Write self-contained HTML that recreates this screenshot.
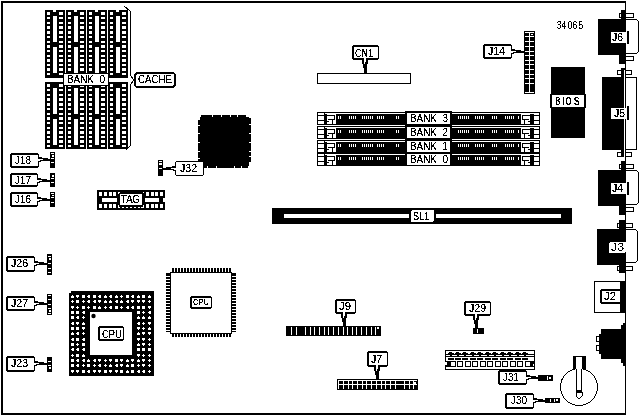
<!DOCTYPE html>
<html><head><meta charset="utf-8"><style>
html,body{margin:0;padding:0;background:#fff;width:639px;height:416px;overflow:hidden}
svg{display:block;filter:grayscale(100%)}
text{font-family:"Liberation Sans",sans-serif}
</style></head><body>
<svg width="639" height="416" viewBox="0 0 639 416" shape-rendering="crispEdges">
<defs><filter id="th" x="-10%" y="-10%" width="120%" height="120%"><feComponentTransfer><feFuncA type="discrete" tableValues="0 0 1 1 1"/></feComponentTransfer></filter><filter id="th2" x="-10%" y="-10%" width="120%" height="120%"><feComponentTransfer><feFuncA type="discrete" tableValues="0 0 1 1 1 1 1 1"/></feComponentTransfer></filter></defs>
<rect width="639" height="416" fill="#fff"/>
<rect x="1" y="1" width="625" height="2" fill="#000"/>
<rect x="1" y="1" width="2" height="414" fill="#000"/>
<rect x="1" y="413" width="625" height="2" fill="#000"/>
<rect x="625" y="1" width="1" height="414" fill="#000"/>
<rect x="45" y="10" width="20" height="68" fill="#000"/>
<rect x="47" y="12" width="3" height="3" fill="#fff"/>
<rect x="59" y="12" width="4" height="3" fill="#fff"/>
<rect x="47" y="17" width="3" height="2" fill="#fff"/>
<rect x="59" y="17" width="4" height="2" fill="#fff"/>
<rect x="47" y="22" width="3" height="2" fill="#fff"/>
<rect x="59" y="22" width="4" height="2" fill="#fff"/>
<rect x="47" y="26" width="3" height="3" fill="#fff"/>
<rect x="59" y="26" width="4" height="3" fill="#fff"/>
<rect x="47" y="31" width="3" height="3" fill="#fff"/>
<rect x="59" y="31" width="4" height="3" fill="#fff"/>
<rect x="47" y="36" width="3" height="2" fill="#fff"/>
<rect x="59" y="36" width="4" height="2" fill="#fff"/>
<rect x="47" y="41" width="3" height="2" fill="#fff"/>
<rect x="59" y="41" width="4" height="2" fill="#fff"/>
<rect x="47" y="45" width="3" height="3" fill="#fff"/>
<rect x="59" y="45" width="4" height="3" fill="#fff"/>
<rect x="47" y="50" width="3" height="2" fill="#fff"/>
<rect x="59" y="50" width="4" height="2" fill="#fff"/>
<rect x="47" y="55" width="3" height="2" fill="#fff"/>
<rect x="59" y="55" width="4" height="2" fill="#fff"/>
<rect x="47" y="59" width="3" height="3" fill="#fff"/>
<rect x="59" y="59" width="4" height="3" fill="#fff"/>
<rect x="47" y="64" width="3" height="2" fill="#fff"/>
<rect x="59" y="64" width="4" height="2" fill="#fff"/>
<rect x="47" y="68" width="3" height="3" fill="#fff"/>
<rect x="59" y="68" width="4" height="3" fill="#fff"/>
<rect x="47" y="73" width="3" height="2" fill="#fff"/>
<rect x="59" y="73" width="4" height="2" fill="#fff"/>
<rect x="53" y="16" width="4" height="26" fill="#fff"/>
<rect x="53" y="47" width="4" height="26" fill="#fff"/>
<rect x="66" y="10" width="20" height="68" fill="#000"/>
<rect x="68" y="12" width="3" height="3" fill="#fff"/>
<rect x="80" y="12" width="4" height="3" fill="#fff"/>
<rect x="68" y="17" width="3" height="2" fill="#fff"/>
<rect x="80" y="17" width="4" height="2" fill="#fff"/>
<rect x="68" y="22" width="3" height="2" fill="#fff"/>
<rect x="80" y="22" width="4" height="2" fill="#fff"/>
<rect x="68" y="26" width="3" height="3" fill="#fff"/>
<rect x="80" y="26" width="4" height="3" fill="#fff"/>
<rect x="68" y="31" width="3" height="3" fill="#fff"/>
<rect x="80" y="31" width="4" height="3" fill="#fff"/>
<rect x="68" y="36" width="3" height="2" fill="#fff"/>
<rect x="80" y="36" width="4" height="2" fill="#fff"/>
<rect x="68" y="41" width="3" height="2" fill="#fff"/>
<rect x="80" y="41" width="4" height="2" fill="#fff"/>
<rect x="68" y="45" width="3" height="3" fill="#fff"/>
<rect x="80" y="45" width="4" height="3" fill="#fff"/>
<rect x="68" y="50" width="3" height="2" fill="#fff"/>
<rect x="80" y="50" width="4" height="2" fill="#fff"/>
<rect x="68" y="55" width="3" height="2" fill="#fff"/>
<rect x="80" y="55" width="4" height="2" fill="#fff"/>
<rect x="68" y="59" width="3" height="3" fill="#fff"/>
<rect x="80" y="59" width="4" height="3" fill="#fff"/>
<rect x="68" y="64" width="3" height="2" fill="#fff"/>
<rect x="80" y="64" width="4" height="2" fill="#fff"/>
<rect x="68" y="68" width="3" height="3" fill="#fff"/>
<rect x="80" y="68" width="4" height="3" fill="#fff"/>
<rect x="68" y="73" width="3" height="2" fill="#fff"/>
<rect x="80" y="73" width="4" height="2" fill="#fff"/>
<rect x="74" y="16" width="4" height="26" fill="#fff"/>
<rect x="74" y="47" width="4" height="26" fill="#fff"/>
<rect x="87" y="10" width="20" height="68" fill="#000"/>
<rect x="89" y="12" width="3" height="3" fill="#fff"/>
<rect x="101" y="12" width="4" height="3" fill="#fff"/>
<rect x="89" y="17" width="3" height="2" fill="#fff"/>
<rect x="101" y="17" width="4" height="2" fill="#fff"/>
<rect x="89" y="22" width="3" height="2" fill="#fff"/>
<rect x="101" y="22" width="4" height="2" fill="#fff"/>
<rect x="89" y="26" width="3" height="3" fill="#fff"/>
<rect x="101" y="26" width="4" height="3" fill="#fff"/>
<rect x="89" y="31" width="3" height="3" fill="#fff"/>
<rect x="101" y="31" width="4" height="3" fill="#fff"/>
<rect x="89" y="36" width="3" height="2" fill="#fff"/>
<rect x="101" y="36" width="4" height="2" fill="#fff"/>
<rect x="89" y="41" width="3" height="2" fill="#fff"/>
<rect x="101" y="41" width="4" height="2" fill="#fff"/>
<rect x="89" y="45" width="3" height="3" fill="#fff"/>
<rect x="101" y="45" width="4" height="3" fill="#fff"/>
<rect x="89" y="50" width="3" height="2" fill="#fff"/>
<rect x="101" y="50" width="4" height="2" fill="#fff"/>
<rect x="89" y="55" width="3" height="2" fill="#fff"/>
<rect x="101" y="55" width="4" height="2" fill="#fff"/>
<rect x="89" y="59" width="3" height="3" fill="#fff"/>
<rect x="101" y="59" width="4" height="3" fill="#fff"/>
<rect x="89" y="64" width="3" height="2" fill="#fff"/>
<rect x="101" y="64" width="4" height="2" fill="#fff"/>
<rect x="89" y="68" width="3" height="3" fill="#fff"/>
<rect x="101" y="68" width="4" height="3" fill="#fff"/>
<rect x="89" y="73" width="3" height="2" fill="#fff"/>
<rect x="101" y="73" width="4" height="2" fill="#fff"/>
<rect x="95" y="16" width="4" height="26" fill="#fff"/>
<rect x="95" y="47" width="4" height="26" fill="#fff"/>
<rect x="108" y="10" width="20" height="68" fill="#000"/>
<rect x="110" y="12" width="3" height="3" fill="#fff"/>
<rect x="122" y="12" width="4" height="3" fill="#fff"/>
<rect x="110" y="17" width="3" height="2" fill="#fff"/>
<rect x="122" y="17" width="4" height="2" fill="#fff"/>
<rect x="110" y="22" width="3" height="2" fill="#fff"/>
<rect x="122" y="22" width="4" height="2" fill="#fff"/>
<rect x="110" y="26" width="3" height="3" fill="#fff"/>
<rect x="122" y="26" width="4" height="3" fill="#fff"/>
<rect x="110" y="31" width="3" height="3" fill="#fff"/>
<rect x="122" y="31" width="4" height="3" fill="#fff"/>
<rect x="110" y="36" width="3" height="2" fill="#fff"/>
<rect x="122" y="36" width="4" height="2" fill="#fff"/>
<rect x="110" y="41" width="3" height="2" fill="#fff"/>
<rect x="122" y="41" width="4" height="2" fill="#fff"/>
<rect x="110" y="45" width="3" height="3" fill="#fff"/>
<rect x="122" y="45" width="4" height="3" fill="#fff"/>
<rect x="110" y="50" width="3" height="2" fill="#fff"/>
<rect x="122" y="50" width="4" height="2" fill="#fff"/>
<rect x="110" y="55" width="3" height="2" fill="#fff"/>
<rect x="122" y="55" width="4" height="2" fill="#fff"/>
<rect x="110" y="59" width="3" height="3" fill="#fff"/>
<rect x="122" y="59" width="4" height="3" fill="#fff"/>
<rect x="110" y="64" width="3" height="2" fill="#fff"/>
<rect x="122" y="64" width="4" height="2" fill="#fff"/>
<rect x="110" y="68" width="3" height="3" fill="#fff"/>
<rect x="122" y="68" width="4" height="3" fill="#fff"/>
<rect x="110" y="73" width="3" height="2" fill="#fff"/>
<rect x="122" y="73" width="4" height="2" fill="#fff"/>
<rect x="116" y="16" width="4" height="26" fill="#fff"/>
<rect x="116" y="47" width="4" height="26" fill="#fff"/>
<rect x="45" y="82" width="20" height="67" fill="#000"/>
<rect x="47" y="84" width="3" height="3" fill="#fff"/>
<rect x="59" y="84" width="4" height="3" fill="#fff"/>
<rect x="47" y="89" width="3" height="2" fill="#fff"/>
<rect x="59" y="89" width="4" height="2" fill="#fff"/>
<rect x="47" y="94" width="3" height="2" fill="#fff"/>
<rect x="59" y="94" width="4" height="2" fill="#fff"/>
<rect x="47" y="98" width="3" height="3" fill="#fff"/>
<rect x="59" y="98" width="4" height="3" fill="#fff"/>
<rect x="47" y="103" width="3" height="3" fill="#fff"/>
<rect x="59" y="103" width="4" height="3" fill="#fff"/>
<rect x="47" y="108" width="3" height="2" fill="#fff"/>
<rect x="59" y="108" width="4" height="2" fill="#fff"/>
<rect x="47" y="113" width="3" height="2" fill="#fff"/>
<rect x="59" y="113" width="4" height="2" fill="#fff"/>
<rect x="47" y="117" width="3" height="3" fill="#fff"/>
<rect x="59" y="117" width="4" height="3" fill="#fff"/>
<rect x="47" y="122" width="3" height="2" fill="#fff"/>
<rect x="59" y="122" width="4" height="2" fill="#fff"/>
<rect x="47" y="127" width="3" height="2" fill="#fff"/>
<rect x="59" y="127" width="4" height="2" fill="#fff"/>
<rect x="47" y="131" width="3" height="3" fill="#fff"/>
<rect x="59" y="131" width="4" height="3" fill="#fff"/>
<rect x="47" y="136" width="3" height="2" fill="#fff"/>
<rect x="59" y="136" width="4" height="2" fill="#fff"/>
<rect x="47" y="140" width="3" height="3" fill="#fff"/>
<rect x="59" y="140" width="4" height="3" fill="#fff"/>
<rect x="47" y="145" width="3" height="2" fill="#fff"/>
<rect x="59" y="145" width="4" height="2" fill="#fff"/>
<rect x="53" y="88" width="4" height="26" fill="#fff"/>
<rect x="53" y="119" width="4" height="26" fill="#fff"/>
<rect x="66" y="82" width="20" height="67" fill="#000"/>
<rect x="68" y="84" width="3" height="3" fill="#fff"/>
<rect x="80" y="84" width="4" height="3" fill="#fff"/>
<rect x="68" y="89" width="3" height="2" fill="#fff"/>
<rect x="80" y="89" width="4" height="2" fill="#fff"/>
<rect x="68" y="94" width="3" height="2" fill="#fff"/>
<rect x="80" y="94" width="4" height="2" fill="#fff"/>
<rect x="68" y="98" width="3" height="3" fill="#fff"/>
<rect x="80" y="98" width="4" height="3" fill="#fff"/>
<rect x="68" y="103" width="3" height="3" fill="#fff"/>
<rect x="80" y="103" width="4" height="3" fill="#fff"/>
<rect x="68" y="108" width="3" height="2" fill="#fff"/>
<rect x="80" y="108" width="4" height="2" fill="#fff"/>
<rect x="68" y="113" width="3" height="2" fill="#fff"/>
<rect x="80" y="113" width="4" height="2" fill="#fff"/>
<rect x="68" y="117" width="3" height="3" fill="#fff"/>
<rect x="80" y="117" width="4" height="3" fill="#fff"/>
<rect x="68" y="122" width="3" height="2" fill="#fff"/>
<rect x="80" y="122" width="4" height="2" fill="#fff"/>
<rect x="68" y="127" width="3" height="2" fill="#fff"/>
<rect x="80" y="127" width="4" height="2" fill="#fff"/>
<rect x="68" y="131" width="3" height="3" fill="#fff"/>
<rect x="80" y="131" width="4" height="3" fill="#fff"/>
<rect x="68" y="136" width="3" height="2" fill="#fff"/>
<rect x="80" y="136" width="4" height="2" fill="#fff"/>
<rect x="68" y="140" width="3" height="3" fill="#fff"/>
<rect x="80" y="140" width="4" height="3" fill="#fff"/>
<rect x="68" y="145" width="3" height="2" fill="#fff"/>
<rect x="80" y="145" width="4" height="2" fill="#fff"/>
<rect x="74" y="88" width="4" height="26" fill="#fff"/>
<rect x="74" y="119" width="4" height="26" fill="#fff"/>
<rect x="87" y="82" width="20" height="67" fill="#000"/>
<rect x="89" y="84" width="3" height="3" fill="#fff"/>
<rect x="101" y="84" width="4" height="3" fill="#fff"/>
<rect x="89" y="89" width="3" height="2" fill="#fff"/>
<rect x="101" y="89" width="4" height="2" fill="#fff"/>
<rect x="89" y="94" width="3" height="2" fill="#fff"/>
<rect x="101" y="94" width="4" height="2" fill="#fff"/>
<rect x="89" y="98" width="3" height="3" fill="#fff"/>
<rect x="101" y="98" width="4" height="3" fill="#fff"/>
<rect x="89" y="103" width="3" height="3" fill="#fff"/>
<rect x="101" y="103" width="4" height="3" fill="#fff"/>
<rect x="89" y="108" width="3" height="2" fill="#fff"/>
<rect x="101" y="108" width="4" height="2" fill="#fff"/>
<rect x="89" y="113" width="3" height="2" fill="#fff"/>
<rect x="101" y="113" width="4" height="2" fill="#fff"/>
<rect x="89" y="117" width="3" height="3" fill="#fff"/>
<rect x="101" y="117" width="4" height="3" fill="#fff"/>
<rect x="89" y="122" width="3" height="2" fill="#fff"/>
<rect x="101" y="122" width="4" height="2" fill="#fff"/>
<rect x="89" y="127" width="3" height="2" fill="#fff"/>
<rect x="101" y="127" width="4" height="2" fill="#fff"/>
<rect x="89" y="131" width="3" height="3" fill="#fff"/>
<rect x="101" y="131" width="4" height="3" fill="#fff"/>
<rect x="89" y="136" width="3" height="2" fill="#fff"/>
<rect x="101" y="136" width="4" height="2" fill="#fff"/>
<rect x="89" y="140" width="3" height="3" fill="#fff"/>
<rect x="101" y="140" width="4" height="3" fill="#fff"/>
<rect x="89" y="145" width="3" height="2" fill="#fff"/>
<rect x="101" y="145" width="4" height="2" fill="#fff"/>
<rect x="95" y="88" width="4" height="26" fill="#fff"/>
<rect x="95" y="119" width="4" height="26" fill="#fff"/>
<rect x="108" y="82" width="20" height="67" fill="#000"/>
<rect x="110" y="84" width="3" height="3" fill="#fff"/>
<rect x="122" y="84" width="4" height="3" fill="#fff"/>
<rect x="110" y="89" width="3" height="2" fill="#fff"/>
<rect x="122" y="89" width="4" height="2" fill="#fff"/>
<rect x="110" y="94" width="3" height="2" fill="#fff"/>
<rect x="122" y="94" width="4" height="2" fill="#fff"/>
<rect x="110" y="98" width="3" height="3" fill="#fff"/>
<rect x="122" y="98" width="4" height="3" fill="#fff"/>
<rect x="110" y="103" width="3" height="3" fill="#fff"/>
<rect x="122" y="103" width="4" height="3" fill="#fff"/>
<rect x="110" y="108" width="3" height="2" fill="#fff"/>
<rect x="122" y="108" width="4" height="2" fill="#fff"/>
<rect x="110" y="113" width="3" height="2" fill="#fff"/>
<rect x="122" y="113" width="4" height="2" fill="#fff"/>
<rect x="110" y="117" width="3" height="3" fill="#fff"/>
<rect x="122" y="117" width="4" height="3" fill="#fff"/>
<rect x="110" y="122" width="3" height="2" fill="#fff"/>
<rect x="122" y="122" width="4" height="2" fill="#fff"/>
<rect x="110" y="127" width="3" height="2" fill="#fff"/>
<rect x="122" y="127" width="4" height="2" fill="#fff"/>
<rect x="110" y="131" width="3" height="3" fill="#fff"/>
<rect x="122" y="131" width="4" height="3" fill="#fff"/>
<rect x="110" y="136" width="3" height="2" fill="#fff"/>
<rect x="122" y="136" width="4" height="2" fill="#fff"/>
<rect x="110" y="140" width="3" height="3" fill="#fff"/>
<rect x="122" y="140" width="4" height="3" fill="#fff"/>
<rect x="110" y="145" width="3" height="2" fill="#fff"/>
<rect x="122" y="145" width="4" height="2" fill="#fff"/>
<rect x="116" y="88" width="4" height="26" fill="#fff"/>
<rect x="116" y="119" width="4" height="26" fill="#fff"/>
<rect x="53" y="10" width="3" height="2" fill="#fff"/>
<rect x="74" y="10" width="3" height="2" fill="#fff"/>
<rect x="95" y="10" width="3" height="2" fill="#fff"/>
<rect x="116" y="10" width="3" height="2" fill="#fff"/>
<rect x="63" y="73" width="46" height="13" fill="#000"/>
<rect x="64" y="74" width="44" height="11" fill="#fff"/>
<text x="67" y="83" font-size="11" fill="#000" font-weight="normal" filter="url(#th)" textLength="38" lengthAdjust="spacingAndGlyphs">BANK&#160;&#160;0</text>
<path d="M124,6 L130,11 L130,75 L134,80 L130,85 L130,146 L126,150" fill="none" stroke="#000" stroke-width="1"/>
<rect x="109" y="79" width="21" height="2" fill="#fff"/>
<rect x="135" y="73" width="40" height="14" rx="3" fill="#fff" stroke="#000" stroke-width="2"/>
<text x="138" y="83" font-size="11" fill="#000" font-weight="normal" filter="url(#th)" textLength="34" lengthAdjust="spacingAndGlyphs">CACHE</text>
<rect x="11" y="153" width="27" height="15" fill="#000"/>
<rect x="10" y="154" width="29" height="13" fill="#000"/>
<rect x="12" y="155" width="26" height="11" fill="#fff"/>
<text x="15" y="164" font-size="11" fill="#000" font-weight="normal" filter="url(#th)" textLength="16" lengthAdjust="spacingAndGlyphs">J18</text>
<rect x="38" y="157" width="4" height="1" fill="#000"/>
<rect x="38" y="158" width="10" height="1" fill="#000"/>
<rect x="43" y="159" width="7" height="1" fill="#000"/>
<rect x="37" y="159" width="6" height="1" fill="#fff"/>
<rect x="40" y="160" width="7" height="1" fill="#000"/>
<rect x="37" y="160" width="3" height="1" fill="#fff"/>
<rect x="47" y="160" width="3" height="1" fill="#000"/>
<rect x="38" y="161" width="3" height="1" fill="#000"/>
<rect x="50" y="152" width="5" height="16" fill="#000"/>
<rect x="51" y="153" width="3" height="1" fill="#fff"/>
<rect x="52" y="155" width="2" height="2" fill="#fff"/>
<rect x="51" y="158" width="3" height="1" fill="#fff"/>
<rect x="51" y="162" width="3" height="1" fill="#fff"/>
<rect x="11" y="173" width="26" height="14" fill="#000"/>
<rect x="10" y="174" width="28" height="12" fill="#000"/>
<rect x="12" y="175" width="25" height="10" fill="#fff"/>
<text x="15" y="184" font-size="11" fill="#000" font-weight="normal" filter="url(#th)" textLength="16" lengthAdjust="spacingAndGlyphs">J17</text>
<rect x="37" y="178" width="4" height="1" fill="#000"/>
<rect x="37" y="179" width="10" height="1" fill="#000"/>
<rect x="42" y="180" width="8" height="1" fill="#000"/>
<rect x="36" y="180" width="6" height="1" fill="#fff"/>
<rect x="39" y="181" width="7" height="1" fill="#000"/>
<rect x="36" y="181" width="3" height="1" fill="#fff"/>
<rect x="46" y="181" width="4" height="1" fill="#000"/>
<rect x="37" y="182" width="3" height="1" fill="#000"/>
<rect x="50" y="173" width="5" height="14" fill="#000"/>
<rect x="52" y="175" width="2" height="2" fill="#fff"/>
<rect x="51" y="178" width="3" height="1" fill="#fff"/>
<rect x="51" y="182" width="3" height="1" fill="#fff"/>
<rect x="11" y="192" width="26" height="15" fill="#000"/>
<rect x="10" y="193" width="28" height="13" fill="#000"/>
<rect x="12" y="194" width="25" height="11" fill="#fff"/>
<text x="15" y="203" font-size="11" fill="#000" font-weight="normal" filter="url(#th)" textLength="16" lengthAdjust="spacingAndGlyphs">J16</text>
<rect x="37" y="197" width="4" height="1" fill="#000"/>
<rect x="37" y="198" width="10" height="1" fill="#000"/>
<rect x="42" y="199" width="8" height="1" fill="#000"/>
<rect x="36" y="199" width="6" height="1" fill="#fff"/>
<rect x="39" y="200" width="7" height="1" fill="#000"/>
<rect x="36" y="200" width="3" height="1" fill="#fff"/>
<rect x="46" y="200" width="4" height="1" fill="#000"/>
<rect x="37" y="201" width="3" height="1" fill="#000"/>
<rect x="50" y="192" width="5" height="15" fill="#000"/>
<rect x="51" y="193" width="3" height="1" fill="#fff"/>
<rect x="52" y="195" width="2" height="1" fill="#fff"/>
<rect x="51" y="197" width="3" height="1" fill="#fff"/>
<rect x="51" y="202" width="3" height="1" fill="#fff"/>
<rect x="7" y="256" width="27" height="16" fill="#000"/>
<rect x="6" y="257" width="29" height="14" fill="#000"/>
<rect x="8" y="258" width="26" height="12" fill="#fff"/>
<text x="11" y="267" font-size="11" fill="#000" font-weight="normal" filter="url(#th)" textLength="17" lengthAdjust="spacingAndGlyphs">J26</text>
<rect x="34" y="261" width="4" height="1" fill="#000"/>
<rect x="34" y="262" width="10" height="1" fill="#000"/>
<rect x="39" y="263" width="8" height="1" fill="#000"/>
<rect x="33" y="263" width="6" height="1" fill="#fff"/>
<rect x="36" y="264" width="7" height="1" fill="#000"/>
<rect x="33" y="264" width="3" height="1" fill="#fff"/>
<rect x="43" y="264" width="4" height="1" fill="#000"/>
<rect x="34" y="265" width="3" height="1" fill="#000"/>
<rect x="47" y="254" width="5" height="21" fill="#000"/>
<rect x="48" y="256" width="3" height="1" fill="#fff"/>
<rect x="49" y="258" width="2" height="2" fill="#fff"/>
<rect x="48" y="263" width="3" height="1" fill="#fff"/>
<rect x="48" y="268" width="3" height="1" fill="#fff"/>
<rect x="48" y="272" width="3" height="1" fill="#fff"/>
<rect x="7" y="296" width="27" height="15" fill="#000"/>
<rect x="6" y="297" width="29" height="13" fill="#000"/>
<rect x="8" y="298" width="26" height="11" fill="#fff"/>
<text x="11" y="307" font-size="11" fill="#000" font-weight="normal" filter="url(#th)" textLength="17" lengthAdjust="spacingAndGlyphs">J27</text>
<rect x="34" y="301" width="4" height="1" fill="#000"/>
<rect x="34" y="302" width="10" height="1" fill="#000"/>
<rect x="39" y="303" width="8" height="1" fill="#000"/>
<rect x="33" y="303" width="6" height="1" fill="#fff"/>
<rect x="36" y="304" width="7" height="1" fill="#000"/>
<rect x="33" y="304" width="3" height="1" fill="#fff"/>
<rect x="43" y="304" width="4" height="1" fill="#000"/>
<rect x="34" y="305" width="3" height="1" fill="#000"/>
<rect x="47" y="294" width="5" height="21" fill="#000"/>
<rect x="48" y="295" width="3" height="1" fill="#fff"/>
<rect x="48" y="299" width="3" height="1" fill="#fff"/>
<rect x="48" y="304" width="3" height="1" fill="#fff"/>
<rect x="48" y="308" width="3" height="1" fill="#fff"/>
<rect x="49" y="310" width="2" height="2" fill="#fff"/>
<rect x="48" y="313" width="3" height="1" fill="#fff"/>
<rect x="7" y="356" width="27" height="16" fill="#000"/>
<rect x="6" y="357" width="29" height="14" fill="#000"/>
<rect x="8" y="358" width="26" height="12" fill="#fff"/>
<text x="11" y="367" font-size="11" fill="#000" font-weight="normal" filter="url(#th)" textLength="17" lengthAdjust="spacingAndGlyphs">J23</text>
<rect x="34" y="361" width="4" height="1" fill="#000"/>
<rect x="34" y="362" width="10" height="1" fill="#000"/>
<rect x="39" y="363" width="8" height="1" fill="#000"/>
<rect x="33" y="363" width="6" height="1" fill="#fff"/>
<rect x="36" y="364" width="7" height="1" fill="#000"/>
<rect x="33" y="364" width="3" height="1" fill="#fff"/>
<rect x="43" y="364" width="4" height="1" fill="#000"/>
<rect x="34" y="365" width="3" height="1" fill="#000"/>
<rect x="47" y="357" width="5" height="15" fill="#000"/>
<rect x="48" y="361" width="3" height="1" fill="#fff"/>
<rect x="48" y="365" width="3" height="1" fill="#fff"/>
<rect x="49" y="367" width="2" height="2" fill="#fff"/>
<rect x="97" y="190" width="68" height="20" fill="#000"/>
<rect x="99" y="192" width="3" height="4" fill="#fff"/>
<rect x="99" y="204" width="3" height="4" fill="#fff"/>
<rect x="104" y="192" width="3" height="4" fill="#fff"/>
<rect x="104" y="204" width="3" height="4" fill="#fff"/>
<rect x="109" y="192" width="3" height="4" fill="#fff"/>
<rect x="109" y="204" width="3" height="4" fill="#fff"/>
<rect x="113" y="192" width="3" height="4" fill="#fff"/>
<rect x="113" y="204" width="3" height="4" fill="#fff"/>
<rect x="146" y="192" width="3" height="4" fill="#fff"/>
<rect x="146" y="204" width="3" height="4" fill="#fff"/>
<rect x="151" y="192" width="3" height="4" fill="#fff"/>
<rect x="151" y="204" width="3" height="4" fill="#fff"/>
<rect x="155" y="192" width="3" height="4" fill="#fff"/>
<rect x="155" y="204" width="3" height="4" fill="#fff"/>
<rect x="160" y="192" width="3" height="4" fill="#fff"/>
<rect x="160" y="204" width="3" height="4" fill="#fff"/>
<rect x="102" y="198" width="16" height="4" fill="#fff"/>
<rect x="144" y="198" width="15" height="4" fill="#fff"/>
<rect x="163" y="198" width="2" height="4" fill="#fff"/>
<rect x="117" y="191" width="28" height="18" fill="#000"/>
<rect x="120" y="194" width="22" height="11" fill="#fff"/>
<rect x="118" y="192" width="2" height="1" fill="#fff"/>
<rect x="118" y="192" width="1" height="2" fill="#fff"/>
<rect x="143" y="192" width="1" height="1" fill="#fff"/>
<rect x="118" y="207" width="2" height="1" fill="#fff"/>
<rect x="122" y="207" width="2" height="1" fill="#fff"/>
<rect x="126" y="207" width="2" height="1" fill="#fff"/>
<rect x="130" y="207" width="2" height="1" fill="#fff"/>
<rect x="134" y="207" width="2" height="1" fill="#fff"/>
<rect x="138" y="207" width="2" height="1" fill="#fff"/>
<rect x="141" y="207" width="2" height="1" fill="#fff"/>
<rect x="118" y="205" width="1" height="2" fill="#fff"/>
<rect x="143" y="205" width="1" height="3" fill="#fff"/>
<text x="121" y="203" font-size="11" fill="#000" font-weight="normal" filter="url(#th)" textLength="19" lengthAdjust="spacingAndGlyphs">TAG</text>
<rect x="158" y="160" width="5" height="16" fill="#000"/>
<rect x="159" y="161" width="3" height="1" fill="#fff"/>
<rect x="159" y="163" width="3" height="2" fill="#fff"/>
<rect x="159" y="168" width="3" height="1" fill="#fff"/>
<path d="M201,115 H246 V117 H249 V118 H251 V162 H249 V166 H248 V168 H204 V163 H198 V120 H200 V117 H201 Z" fill="#000" />
<rect x="212" y="115" width="1" height="2" fill="#fff"/>
<rect x="221" y="115" width="1" height="2" fill="#fff"/>
<rect x="230" y="115" width="1" height="2" fill="#fff"/>
<rect x="237" y="115" width="1" height="2" fill="#fff"/>
<rect x="207" y="166" width="1" height="2" fill="#fff"/>
<rect x="216" y="166" width="1" height="2" fill="#fff"/>
<rect x="234" y="166" width="1" height="2" fill="#fff"/>
<rect x="241" y="166" width="1" height="2" fill="#fff"/>
<rect x="198" y="125" width="2" height="1" fill="#fff"/>
<rect x="198" y="133" width="2" height="1" fill="#fff"/>
<rect x="198" y="142" width="2" height="1" fill="#fff"/>
<rect x="198" y="151" width="2" height="1" fill="#fff"/>
<rect x="198" y="158" width="2" height="1" fill="#fff"/>
<rect x="249" y="124" width="2" height="1" fill="#fff"/>
<rect x="249" y="133" width="2" height="1" fill="#fff"/>
<rect x="249" y="142" width="2" height="1" fill="#fff"/>
<rect x="249" y="151" width="2" height="1" fill="#fff"/>
<rect x="249" y="156" width="2" height="1" fill="#fff"/>
<rect x="176" y="161" width="27" height="15" fill="#000"/>
<rect x="175" y="162" width="29" height="13" fill="#000"/>
<rect x="176" y="162" width="27" height="13" fill="#fff"/>
<text x="180" y="172" font-size="11" fill="#000" font-weight="normal" filter="url(#th)" textLength="17" lengthAdjust="spacingAndGlyphs">J32</text>
<rect x="172" y="166" width="4" height="1" fill="#000"/>
<rect x="166" y="167" width="10" height="1" fill="#000"/>
<rect x="163" y="168" width="8" height="1" fill="#000"/>
<rect x="171" y="168" width="6" height="1" fill="#fff"/>
<rect x="167" y="169" width="7" height="1" fill="#000"/>
<rect x="174" y="169" width="3" height="1" fill="#fff"/>
<rect x="163" y="169" width="4" height="1" fill="#000"/>
<rect x="173" y="170" width="3" height="1" fill="#000"/>
<rect x="353" y="45" width="25" height="15" fill="#000"/>
<rect x="352" y="46" width="27" height="13" fill="#000"/>
<rect x="354" y="47" width="24" height="11" fill="#fff"/>
<text x="355" y="57" font-size="11" fill="#000" font-weight="normal" filter="url(#th)" textLength="18" lengthAdjust="spacingAndGlyphs">CN1</text>
<rect x="362" y="59" width="2" height="5" fill="#000"/>
<rect x="366" y="59" width="2" height="5" fill="#000"/>
<rect x="364" y="58" width="2" height="4" fill="#fff"/>
<rect x="364" y="62" width="2" height="11" fill="#000"/>
<rect x="363" y="64" width="4" height="4" fill="#000"/>
<rect x="364" y="64" width="3" height="9" fill="#000"/>
<rect x="364" y="62" width="1" height="2" fill="#fff"/>
<rect x="317.5" y="73.5" width="93" height="10" fill="none" stroke="#000" stroke-width="1"/>
<rect x="484" y="44" width="27" height="15" fill="#000"/>
<rect x="483" y="45" width="29" height="13" fill="#000"/>
<rect x="485" y="46" width="26" height="11" fill="#fff"/>
<text x="488" y="55" font-size="11" fill="#000" font-weight="normal" filter="url(#th)" textLength="17" lengthAdjust="spacingAndGlyphs">J14</text>
<rect x="511" y="49" width="4" height="1" fill="#000"/>
<rect x="511" y="50" width="10" height="1" fill="#000"/>
<rect x="516" y="51" width="8" height="1" fill="#000"/>
<rect x="510" y="51" width="6" height="1" fill="#fff"/>
<rect x="513" y="52" width="7" height="1" fill="#000"/>
<rect x="510" y="52" width="3" height="1" fill="#fff"/>
<rect x="520" y="52" width="4" height="1" fill="#000"/>
<rect x="511" y="53" width="3" height="1" fill="#000"/>
<rect x="524" y="31" width="11" height="63" fill="#000"/>
<rect x="525" y="32" width="9" height="1" fill="#fff"/>
<rect x="525" y="36" width="9" height="1" fill="#fff"/>
<rect x="525" y="41" width="9" height="1" fill="#fff"/>
<rect x="525" y="46" width="9" height="1" fill="#fff"/>
<rect x="525" y="51" width="9" height="1" fill="#fff"/>
<rect x="525" y="55" width="9" height="1" fill="#fff"/>
<rect x="525" y="60" width="9" height="1" fill="#fff"/>
<rect x="525" y="64" width="9" height="1" fill="#fff"/>
<rect x="525" y="69" width="9" height="1" fill="#fff"/>
<rect x="525" y="74" width="9" height="1" fill="#fff"/>
<rect x="525" y="78" width="9" height="1" fill="#fff"/>
<rect x="525" y="83" width="9" height="1" fill="#fff"/>
<rect x="525" y="92" width="9" height="1" fill="#fff"/>
<rect x="529" y="32" width="1" height="60" fill="#fff"/>
<rect x="531" y="34" width="2" height="1" fill="#fff"/>
<text x="556.5" y="29" font-size="10" fill="#000" font-weight="normal" filter="url(#th)" textLength="5.2" lengthAdjust="spacingAndGlyphs">3</text>
<text x="561.5" y="29" font-size="10" fill="#000" font-weight="normal" filter="url(#th)" textLength="4.8" lengthAdjust="spacingAndGlyphs">4</text>
<text x="567.5" y="29" font-size="10" fill="#000" font-weight="normal" filter="url(#th)" textLength="4.6" lengthAdjust="spacingAndGlyphs">0</text>
<text x="572.5" y="29" font-size="10" fill="#000" font-weight="normal" filter="url(#th)" textLength="5" lengthAdjust="spacingAndGlyphs">6</text>
<text x="578.3" y="29" font-size="10" fill="#000" font-weight="normal" filter="url(#th)" textLength="5" lengthAdjust="spacingAndGlyphs">5</text>
<rect x="551" y="67" width="34" height="71" fill="#000"/>
<rect x="550" y="94" width="36" height="14" fill="#000"/>
<rect x="552" y="95" width="32" height="12" fill="#fff"/>
<text x="556" y="105" font-size="11" fill="#000" font-weight="normal" filter="url(#th2)" textLength="4" lengthAdjust="spacingAndGlyphs">B</text>
<rect x="563" y="97" width="1" height="8" fill="#000"/>
<text x="565.5" y="105" font-size="11" fill="#000" font-weight="normal" filter="url(#th2)" textLength="6" lengthAdjust="spacingAndGlyphs">O</text>
<text x="574" y="105" font-size="11" fill="#000" font-weight="normal" filter="url(#th2)" textLength="5.5" lengthAdjust="spacingAndGlyphs">S</text>
<rect x="272" y="208" width="300" height="16" fill="#000"/>
<rect x="284" y="214" width="277" height="4" fill="#fff"/>
<rect x="409" y="208" width="27" height="16" fill="#000"/>
<rect x="411" y="210" width="23" height="12" rx="2" fill="#fff"/>
<text x="413" y="220" font-size="11" fill="#000" font-weight="normal" filter="url(#th)" textLength="16.5" lengthAdjust="spacingAndGlyphs">SL1</text>
<rect x="317.5" y="112.5" width="222" height="12" fill="none" stroke="#000" stroke-width="1"/>
<rect x="317" y="112" width="223" height="13" fill="#000"/>
<rect x="318" y="113" width="6" height="2" fill="#fff"/>
<rect x="318" y="116" width="6" height="4" fill="#fff"/>
<rect x="318" y="121" width="6" height="3" fill="#fff"/>
<rect x="325" y="113" width="211" height="1" fill="#fff"/>
<rect x="325" y="113" width="11" height="11" fill="#fff"/>
<rect x="324" y="114" width="3" height="10" fill="#000"/>
<rect x="327" y="115" width="8" height="1" fill="#000"/>
<rect x="334" y="115" width="1" height="5" fill="#000"/>
<rect x="328" y="119" width="7" height="1" fill="#000"/>
<rect x="327" y="121" width="2" height="1" fill="#000"/>
<rect x="332" y="120" width="1" height="4" fill="#000"/>
<rect x="338" y="116" width="1" height="3" fill="#fff"/>
<rect x="340" y="116" width="1" height="3" fill="#fff"/>
<rect x="349" y="116" width="1" height="3" fill="#fff"/>
<rect x="351" y="116" width="1" height="3" fill="#fff"/>
<rect x="353" y="116" width="1" height="3" fill="#fff"/>
<rect x="355" y="116" width="1" height="3" fill="#fff"/>
<rect x="362" y="116" width="1" height="3" fill="#fff"/>
<rect x="364" y="116" width="1" height="3" fill="#fff"/>
<rect x="366" y="116" width="1" height="3" fill="#fff"/>
<rect x="368" y="116" width="1" height="3" fill="#fff"/>
<rect x="370" y="116" width="1" height="3" fill="#fff"/>
<rect x="372" y="116" width="1" height="3" fill="#fff"/>
<rect x="377" y="116" width="1" height="3" fill="#fff"/>
<rect x="379" y="116" width="1" height="3" fill="#fff"/>
<rect x="381" y="116" width="1" height="3" fill="#fff"/>
<rect x="383" y="116" width="1" height="3" fill="#fff"/>
<rect x="396" y="116" width="1" height="3" fill="#fff"/>
<rect x="398" y="116" width="1" height="3" fill="#fff"/>
<rect x="458" y="116" width="1" height="3" fill="#fff"/>
<rect x="460" y="116" width="1" height="3" fill="#fff"/>
<rect x="462" y="116" width="1" height="3" fill="#fff"/>
<rect x="464" y="116" width="1" height="3" fill="#fff"/>
<rect x="466" y="116" width="1" height="3" fill="#fff"/>
<rect x="468" y="116" width="1" height="3" fill="#fff"/>
<rect x="475" y="116" width="1" height="3" fill="#fff"/>
<rect x="477" y="116" width="1" height="3" fill="#fff"/>
<rect x="479" y="116" width="1" height="3" fill="#fff"/>
<rect x="481" y="116" width="1" height="3" fill="#fff"/>
<rect x="483" y="116" width="1" height="3" fill="#fff"/>
<rect x="492" y="116" width="1" height="3" fill="#fff"/>
<rect x="494" y="116" width="1" height="3" fill="#fff"/>
<rect x="496" y="116" width="1" height="3" fill="#fff"/>
<rect x="505" y="116" width="1" height="3" fill="#fff"/>
<rect x="507" y="116" width="1" height="3" fill="#fff"/>
<rect x="509" y="116" width="1" height="3" fill="#fff"/>
<rect x="511" y="116" width="1" height="3" fill="#fff"/>
<rect x="513" y="116" width="1" height="3" fill="#fff"/>
<rect x="518" y="116" width="1" height="3" fill="#fff"/>
<rect x="521" y="113" width="11" height="11" fill="#fff"/>
<rect x="530" y="114" width="3" height="10" fill="#000"/>
<rect x="522" y="115" width="8" height="1" fill="#000"/>
<rect x="522" y="115" width="1" height="5" fill="#000"/>
<rect x="522" y="119" width="7" height="1" fill="#000"/>
<rect x="528" y="121" width="2" height="1" fill="#000"/>
<rect x="524" y="120" width="1" height="4" fill="#000"/>
<rect x="534" y="113" width="5" height="2" fill="#fff"/>
<rect x="534" y="116" width="5" height="4" fill="#fff"/>
<rect x="534" y="121" width="5" height="3" fill="#fff"/>
<rect x="405" y="111" width="47" height="14" fill="#000"/>
<rect x="407" y="113" width="43" height="11" fill="#fff"/>
<text x="410" y="122" font-size="11" fill="#000" font-weight="normal" filter="url(#th)" textLength="38" lengthAdjust="spacingAndGlyphs">BANK&#160;&#160;3</text>
<rect x="317.5" y="126.5" width="222" height="12" fill="none" stroke="#000" stroke-width="1"/>
<rect x="317" y="126" width="223" height="13" fill="#000"/>
<rect x="318" y="127" width="6" height="2" fill="#fff"/>
<rect x="318" y="130" width="6" height="4" fill="#fff"/>
<rect x="318" y="135" width="6" height="3" fill="#fff"/>
<rect x="325" y="127" width="211" height="1" fill="#fff"/>
<rect x="325" y="127" width="11" height="11" fill="#fff"/>
<rect x="324" y="128" width="3" height="10" fill="#000"/>
<rect x="327" y="129" width="8" height="1" fill="#000"/>
<rect x="334" y="129" width="1" height="5" fill="#000"/>
<rect x="328" y="133" width="7" height="1" fill="#000"/>
<rect x="327" y="135" width="2" height="1" fill="#000"/>
<rect x="332" y="134" width="1" height="4" fill="#000"/>
<rect x="338" y="130" width="1" height="3" fill="#fff"/>
<rect x="340" y="130" width="1" height="3" fill="#fff"/>
<rect x="349" y="130" width="1" height="3" fill="#fff"/>
<rect x="351" y="130" width="1" height="3" fill="#fff"/>
<rect x="353" y="130" width="1" height="3" fill="#fff"/>
<rect x="355" y="130" width="1" height="3" fill="#fff"/>
<rect x="362" y="130" width="1" height="3" fill="#fff"/>
<rect x="364" y="130" width="1" height="3" fill="#fff"/>
<rect x="366" y="130" width="1" height="3" fill="#fff"/>
<rect x="368" y="130" width="1" height="3" fill="#fff"/>
<rect x="370" y="130" width="1" height="3" fill="#fff"/>
<rect x="372" y="130" width="1" height="3" fill="#fff"/>
<rect x="377" y="130" width="1" height="3" fill="#fff"/>
<rect x="379" y="130" width="1" height="3" fill="#fff"/>
<rect x="381" y="130" width="1" height="3" fill="#fff"/>
<rect x="383" y="130" width="1" height="3" fill="#fff"/>
<rect x="396" y="130" width="1" height="3" fill="#fff"/>
<rect x="398" y="130" width="1" height="3" fill="#fff"/>
<rect x="458" y="130" width="1" height="3" fill="#fff"/>
<rect x="460" y="130" width="1" height="3" fill="#fff"/>
<rect x="462" y="130" width="1" height="3" fill="#fff"/>
<rect x="464" y="130" width="1" height="3" fill="#fff"/>
<rect x="466" y="130" width="1" height="3" fill="#fff"/>
<rect x="468" y="130" width="1" height="3" fill="#fff"/>
<rect x="475" y="130" width="1" height="3" fill="#fff"/>
<rect x="477" y="130" width="1" height="3" fill="#fff"/>
<rect x="479" y="130" width="1" height="3" fill="#fff"/>
<rect x="481" y="130" width="1" height="3" fill="#fff"/>
<rect x="483" y="130" width="1" height="3" fill="#fff"/>
<rect x="492" y="130" width="1" height="3" fill="#fff"/>
<rect x="494" y="130" width="1" height="3" fill="#fff"/>
<rect x="496" y="130" width="1" height="3" fill="#fff"/>
<rect x="505" y="130" width="1" height="3" fill="#fff"/>
<rect x="507" y="130" width="1" height="3" fill="#fff"/>
<rect x="509" y="130" width="1" height="3" fill="#fff"/>
<rect x="511" y="130" width="1" height="3" fill="#fff"/>
<rect x="513" y="130" width="1" height="3" fill="#fff"/>
<rect x="518" y="130" width="1" height="3" fill="#fff"/>
<rect x="521" y="127" width="11" height="11" fill="#fff"/>
<rect x="530" y="128" width="3" height="10" fill="#000"/>
<rect x="522" y="129" width="8" height="1" fill="#000"/>
<rect x="522" y="129" width="1" height="5" fill="#000"/>
<rect x="522" y="133" width="7" height="1" fill="#000"/>
<rect x="528" y="135" width="2" height="1" fill="#000"/>
<rect x="524" y="134" width="1" height="4" fill="#000"/>
<rect x="534" y="127" width="5" height="2" fill="#fff"/>
<rect x="534" y="130" width="5" height="4" fill="#fff"/>
<rect x="534" y="135" width="5" height="3" fill="#fff"/>
<rect x="405" y="125" width="47" height="14" fill="#000"/>
<rect x="407" y="127" width="43" height="11" fill="#fff"/>
<text x="410" y="136" font-size="11" fill="#000" font-weight="normal" filter="url(#th)" textLength="38" lengthAdjust="spacingAndGlyphs">BANK&#160;&#160;2</text>
<rect x="317.5" y="140.5" width="222" height="12" fill="none" stroke="#000" stroke-width="1"/>
<rect x="317" y="140" width="223" height="13" fill="#000"/>
<rect x="318" y="141" width="6" height="2" fill="#fff"/>
<rect x="318" y="144" width="6" height="4" fill="#fff"/>
<rect x="318" y="149" width="6" height="3" fill="#fff"/>
<rect x="325" y="141" width="211" height="1" fill="#fff"/>
<rect x="325" y="141" width="11" height="11" fill="#fff"/>
<rect x="324" y="142" width="3" height="10" fill="#000"/>
<rect x="327" y="143" width="8" height="1" fill="#000"/>
<rect x="334" y="143" width="1" height="5" fill="#000"/>
<rect x="328" y="147" width="7" height="1" fill="#000"/>
<rect x="327" y="149" width="2" height="1" fill="#000"/>
<rect x="332" y="148" width="1" height="4" fill="#000"/>
<rect x="338" y="144" width="1" height="3" fill="#fff"/>
<rect x="340" y="144" width="1" height="3" fill="#fff"/>
<rect x="349" y="144" width="1" height="3" fill="#fff"/>
<rect x="351" y="144" width="1" height="3" fill="#fff"/>
<rect x="353" y="144" width="1" height="3" fill="#fff"/>
<rect x="355" y="144" width="1" height="3" fill="#fff"/>
<rect x="362" y="144" width="1" height="3" fill="#fff"/>
<rect x="364" y="144" width="1" height="3" fill="#fff"/>
<rect x="366" y="144" width="1" height="3" fill="#fff"/>
<rect x="368" y="144" width="1" height="3" fill="#fff"/>
<rect x="370" y="144" width="1" height="3" fill="#fff"/>
<rect x="372" y="144" width="1" height="3" fill="#fff"/>
<rect x="377" y="144" width="1" height="3" fill="#fff"/>
<rect x="379" y="144" width="1" height="3" fill="#fff"/>
<rect x="381" y="144" width="1" height="3" fill="#fff"/>
<rect x="383" y="144" width="1" height="3" fill="#fff"/>
<rect x="396" y="144" width="1" height="3" fill="#fff"/>
<rect x="398" y="144" width="1" height="3" fill="#fff"/>
<rect x="458" y="144" width="1" height="3" fill="#fff"/>
<rect x="460" y="144" width="1" height="3" fill="#fff"/>
<rect x="462" y="144" width="1" height="3" fill="#fff"/>
<rect x="464" y="144" width="1" height="3" fill="#fff"/>
<rect x="466" y="144" width="1" height="3" fill="#fff"/>
<rect x="468" y="144" width="1" height="3" fill="#fff"/>
<rect x="475" y="144" width="1" height="3" fill="#fff"/>
<rect x="477" y="144" width="1" height="3" fill="#fff"/>
<rect x="479" y="144" width="1" height="3" fill="#fff"/>
<rect x="481" y="144" width="1" height="3" fill="#fff"/>
<rect x="483" y="144" width="1" height="3" fill="#fff"/>
<rect x="492" y="144" width="1" height="3" fill="#fff"/>
<rect x="494" y="144" width="1" height="3" fill="#fff"/>
<rect x="496" y="144" width="1" height="3" fill="#fff"/>
<rect x="505" y="144" width="1" height="3" fill="#fff"/>
<rect x="507" y="144" width="1" height="3" fill="#fff"/>
<rect x="509" y="144" width="1" height="3" fill="#fff"/>
<rect x="511" y="144" width="1" height="3" fill="#fff"/>
<rect x="513" y="144" width="1" height="3" fill="#fff"/>
<rect x="518" y="144" width="1" height="3" fill="#fff"/>
<rect x="521" y="141" width="11" height="11" fill="#fff"/>
<rect x="530" y="142" width="3" height="10" fill="#000"/>
<rect x="522" y="143" width="8" height="1" fill="#000"/>
<rect x="522" y="143" width="1" height="5" fill="#000"/>
<rect x="522" y="147" width="7" height="1" fill="#000"/>
<rect x="528" y="149" width="2" height="1" fill="#000"/>
<rect x="524" y="148" width="1" height="4" fill="#000"/>
<rect x="534" y="141" width="5" height="2" fill="#fff"/>
<rect x="534" y="144" width="5" height="4" fill="#fff"/>
<rect x="534" y="149" width="5" height="3" fill="#fff"/>
<rect x="405" y="139" width="47" height="14" fill="#000"/>
<rect x="407" y="141" width="43" height="11" fill="#fff"/>
<text x="410" y="150" font-size="11" fill="#000" font-weight="normal" filter="url(#th)" textLength="38" lengthAdjust="spacingAndGlyphs">BANK&#160;&#160;1</text>
<rect x="317.5" y="153.5" width="222" height="12" fill="none" stroke="#000" stroke-width="1"/>
<rect x="317" y="153" width="223" height="13" fill="#000"/>
<rect x="318" y="154" width="6" height="2" fill="#fff"/>
<rect x="318" y="157" width="6" height="4" fill="#fff"/>
<rect x="318" y="162" width="6" height="3" fill="#fff"/>
<rect x="325" y="154" width="211" height="1" fill="#fff"/>
<rect x="325" y="154" width="11" height="11" fill="#fff"/>
<rect x="324" y="155" width="3" height="10" fill="#000"/>
<rect x="327" y="156" width="8" height="1" fill="#000"/>
<rect x="334" y="156" width="1" height="5" fill="#000"/>
<rect x="328" y="160" width="7" height="1" fill="#000"/>
<rect x="327" y="162" width="2" height="1" fill="#000"/>
<rect x="332" y="161" width="1" height="4" fill="#000"/>
<rect x="338" y="157" width="1" height="3" fill="#fff"/>
<rect x="340" y="157" width="1" height="3" fill="#fff"/>
<rect x="349" y="157" width="1" height="3" fill="#fff"/>
<rect x="351" y="157" width="1" height="3" fill="#fff"/>
<rect x="353" y="157" width="1" height="3" fill="#fff"/>
<rect x="355" y="157" width="1" height="3" fill="#fff"/>
<rect x="362" y="157" width="1" height="3" fill="#fff"/>
<rect x="364" y="157" width="1" height="3" fill="#fff"/>
<rect x="366" y="157" width="1" height="3" fill="#fff"/>
<rect x="368" y="157" width="1" height="3" fill="#fff"/>
<rect x="370" y="157" width="1" height="3" fill="#fff"/>
<rect x="372" y="157" width="1" height="3" fill="#fff"/>
<rect x="377" y="157" width="1" height="3" fill="#fff"/>
<rect x="379" y="157" width="1" height="3" fill="#fff"/>
<rect x="381" y="157" width="1" height="3" fill="#fff"/>
<rect x="383" y="157" width="1" height="3" fill="#fff"/>
<rect x="396" y="157" width="1" height="3" fill="#fff"/>
<rect x="398" y="157" width="1" height="3" fill="#fff"/>
<rect x="458" y="157" width="1" height="3" fill="#fff"/>
<rect x="460" y="157" width="1" height="3" fill="#fff"/>
<rect x="462" y="157" width="1" height="3" fill="#fff"/>
<rect x="464" y="157" width="1" height="3" fill="#fff"/>
<rect x="466" y="157" width="1" height="3" fill="#fff"/>
<rect x="468" y="157" width="1" height="3" fill="#fff"/>
<rect x="475" y="157" width="1" height="3" fill="#fff"/>
<rect x="477" y="157" width="1" height="3" fill="#fff"/>
<rect x="479" y="157" width="1" height="3" fill="#fff"/>
<rect x="481" y="157" width="1" height="3" fill="#fff"/>
<rect x="483" y="157" width="1" height="3" fill="#fff"/>
<rect x="492" y="157" width="1" height="3" fill="#fff"/>
<rect x="494" y="157" width="1" height="3" fill="#fff"/>
<rect x="496" y="157" width="1" height="3" fill="#fff"/>
<rect x="505" y="157" width="1" height="3" fill="#fff"/>
<rect x="507" y="157" width="1" height="3" fill="#fff"/>
<rect x="509" y="157" width="1" height="3" fill="#fff"/>
<rect x="511" y="157" width="1" height="3" fill="#fff"/>
<rect x="513" y="157" width="1" height="3" fill="#fff"/>
<rect x="518" y="157" width="1" height="3" fill="#fff"/>
<rect x="521" y="154" width="11" height="11" fill="#fff"/>
<rect x="530" y="155" width="3" height="10" fill="#000"/>
<rect x="522" y="156" width="8" height="1" fill="#000"/>
<rect x="522" y="156" width="1" height="5" fill="#000"/>
<rect x="522" y="160" width="7" height="1" fill="#000"/>
<rect x="528" y="162" width="2" height="1" fill="#000"/>
<rect x="524" y="161" width="1" height="4" fill="#000"/>
<rect x="534" y="154" width="5" height="2" fill="#fff"/>
<rect x="534" y="157" width="5" height="4" fill="#fff"/>
<rect x="534" y="162" width="5" height="3" fill="#fff"/>
<rect x="405" y="152" width="47" height="14" fill="#000"/>
<rect x="407" y="154" width="43" height="11" fill="#fff"/>
<text x="410" y="163" font-size="11" fill="#000" font-weight="normal" filter="url(#th)" textLength="38" lengthAdjust="spacingAndGlyphs">BANK&#160;&#160;0</text>
<rect x="625" y="1" width="1" height="414" fill="#000"/>
<rect x="598" y="19" width="28" height="36" fill="#000"/>
<rect x="621" y="10" width="5" height="9" fill="#000"/>
<rect x="619.5" y="13.5" width="14" height="4" fill="none" stroke="#000" stroke-width="1"/>
<rect x="621" y="13" width="5" height="5" fill="#000"/>
<rect x="626" y="19" width="11" height="1" fill="#000"/>
<rect x="637" y="20" width="1" height="1" fill="#000"/>
<rect x="638" y="21" width="1" height="31" fill="#000"/>
<rect x="637" y="52" width="1" height="1" fill="#000"/>
<rect x="626" y="53" width="11" height="1" fill="#000"/>
<rect x="619" y="55" width="7" height="9" fill="#000"/>
<rect x="625.5" y="56.5" width="8" height="4" fill="none" stroke="#000" stroke-width="1"/>
<rect x="611" y="32" width="16" height="11" fill="#fff"/>
<rect x="627" y="31" width="2" height="13" fill="#000"/>
<text x="612" y="41" font-size="11" fill="#000" font-weight="normal" filter="url(#th)" textLength="11" lengthAdjust="spacingAndGlyphs">J6</text>
<rect x="598" y="170" width="28" height="36" fill="#000"/>
<rect x="621" y="161" width="5" height="9" fill="#000"/>
<rect x="619.5" y="164.5" width="14" height="4" fill="none" stroke="#000" stroke-width="1"/>
<rect x="621" y="164" width="5" height="5" fill="#000"/>
<rect x="626" y="170" width="11" height="1" fill="#000"/>
<rect x="637" y="171" width="1" height="1" fill="#000"/>
<rect x="638" y="172" width="1" height="31" fill="#000"/>
<rect x="637" y="203" width="1" height="1" fill="#000"/>
<rect x="626" y="204" width="11" height="1" fill="#000"/>
<rect x="619" y="206" width="7" height="9" fill="#000"/>
<rect x="625.5" y="207.5" width="8" height="4" fill="none" stroke="#000" stroke-width="1"/>
<rect x="611" y="183" width="16" height="11" fill="#fff"/>
<rect x="627" y="182" width="2" height="13" fill="#000"/>
<text x="612" y="192" font-size="11" fill="#000" font-weight="normal" filter="url(#th)" textLength="11" lengthAdjust="spacingAndGlyphs">J4</text>
<rect x="597" y="229" width="28" height="36" fill="#000"/>
<rect x="619" y="220" width="6" height="9" fill="#000"/>
<rect x="617.5" y="223.5" width="15" height="4" fill="none" stroke="#000" stroke-width="1"/>
<rect x="619" y="223" width="6" height="5" fill="#000"/>
<rect x="625" y="229" width="11" height="1" fill="#000"/>
<rect x="636" y="230" width="1" height="1" fill="#000"/>
<rect x="637" y="231" width="1" height="30" fill="#000"/>
<rect x="636" y="261" width="1" height="1" fill="#000"/>
<rect x="625" y="262" width="11" height="1" fill="#000"/>
<rect x="619" y="265" width="7" height="8" fill="#000"/>
<rect x="617.5" y="266.5" width="15" height="4" fill="none" stroke="#000" stroke-width="1"/>
<rect x="619" y="266" width="7" height="5" fill="#000"/>
<rect x="609" y="242" width="17" height="11" rx="2" fill="#fff"/>
<text x="611" y="251" font-size="11" fill="#000" font-weight="normal" filter="url(#th)" textLength="13" lengthAdjust="spacingAndGlyphs">J3</text>
<rect x="621" y="68" width="4" height="9" fill="#000"/>
<rect x="617.5" y="70.5" width="14" height="4" fill="none" stroke="#000" stroke-width="1"/>
<rect x="621" y="70" width="4" height="5" fill="#000"/>
<rect x="602" y="77" width="22" height="73" fill="#000"/>
<rect x="626" y="77" width="10" height="1" fill="#000"/>
<rect x="636" y="77" width="1" height="73" fill="#000"/>
<rect x="626" y="149" width="10" height="1" fill="#000"/>
<rect x="621" y="150" width="4" height="7" fill="#000"/>
<rect x="617.5" y="152.5" width="14" height="4" fill="none" stroke="#000" stroke-width="1"/>
<rect x="621" y="152" width="4" height="5" fill="#000"/>
<rect x="624" y="70" width="1" height="87" fill="#fff"/>
<rect x="611" y="108" width="16" height="11" fill="#fff"/>
<rect x="627" y="106" width="2" height="14" fill="#000"/>
<text x="614" y="117" font-size="11" fill="#000" font-weight="normal" filter="url(#th)" textLength="11" lengthAdjust="spacingAndGlyphs">J5</text>
<rect x="594.5" y="281.5" width="26" height="31" fill="none" stroke="#000" stroke-width="1"/>
<rect x="620" y="281" width="5" height="32" fill="#000"/>
<rect x="601" y="289" width="19" height="15" fill="#000"/>
<rect x="600" y="290" width="21" height="13" fill="#000"/>
<rect x="602" y="291" width="18" height="11" fill="#fff"/>
<text x="604" y="300" font-size="11" fill="#000" font-weight="normal" filter="url(#th)" textLength="12" lengthAdjust="spacingAndGlyphs">J2</text>
<rect x="623" y="323" width="3" height="43" fill="#000"/>
<rect x="621" y="325" width="5" height="38" fill="#000"/>
<rect x="601" y="329" width="25" height="30" fill="#000"/>
<rect x="599" y="334" width="3" height="20" fill="#000"/>
<rect x="596.5" y="336.5" width="3" height="5" fill="none" stroke="#000" stroke-width="1"/>
<rect x="596.5" y="345.5" width="3" height="5" fill="none" stroke="#000" stroke-width="1"/>
<rect x="170.5" y="272.5" width="61" height="61" fill="none" stroke="#000" stroke-width="1"/>
<rect x="172" y="268" width="2" height="4" fill="#000"/>
<rect x="172" y="334" width="2" height="3" fill="#000"/>
<rect x="175" y="268" width="2" height="4" fill="#000"/>
<rect x="175" y="334" width="2" height="3" fill="#000"/>
<rect x="178" y="268" width="2" height="4" fill="#000"/>
<rect x="178" y="334" width="2" height="3" fill="#000"/>
<rect x="181" y="268" width="2" height="4" fill="#000"/>
<rect x="181" y="334" width="2" height="3" fill="#000"/>
<rect x="184" y="268" width="2" height="4" fill="#000"/>
<rect x="184" y="334" width="2" height="3" fill="#000"/>
<rect x="187" y="268" width="2" height="4" fill="#000"/>
<rect x="187" y="334" width="2" height="3" fill="#000"/>
<rect x="190" y="268" width="2" height="4" fill="#000"/>
<rect x="190" y="334" width="2" height="3" fill="#000"/>
<rect x="193" y="268" width="2" height="4" fill="#000"/>
<rect x="193" y="334" width="2" height="3" fill="#000"/>
<rect x="196" y="268" width="2" height="4" fill="#000"/>
<rect x="196" y="334" width="2" height="3" fill="#000"/>
<rect x="199" y="268" width="2" height="4" fill="#000"/>
<rect x="199" y="334" width="2" height="3" fill="#000"/>
<rect x="202" y="268" width="2" height="4" fill="#000"/>
<rect x="202" y="334" width="2" height="3" fill="#000"/>
<rect x="205" y="268" width="2" height="4" fill="#000"/>
<rect x="205" y="334" width="2" height="3" fill="#000"/>
<rect x="208" y="268" width="2" height="4" fill="#000"/>
<rect x="208" y="334" width="2" height="3" fill="#000"/>
<rect x="211" y="268" width="2" height="4" fill="#000"/>
<rect x="211" y="334" width="2" height="3" fill="#000"/>
<rect x="214" y="268" width="2" height="4" fill="#000"/>
<rect x="214" y="334" width="2" height="3" fill="#000"/>
<rect x="217" y="268" width="2" height="4" fill="#000"/>
<rect x="217" y="334" width="2" height="3" fill="#000"/>
<rect x="220" y="268" width="2" height="4" fill="#000"/>
<rect x="220" y="334" width="2" height="3" fill="#000"/>
<rect x="223" y="268" width="2" height="4" fill="#000"/>
<rect x="223" y="334" width="2" height="3" fill="#000"/>
<rect x="226" y="268" width="2" height="4" fill="#000"/>
<rect x="226" y="334" width="2" height="3" fill="#000"/>
<rect x="229" y="268" width="2" height="4" fill="#000"/>
<rect x="229" y="334" width="2" height="3" fill="#000"/>
<rect x="166" y="273" width="4" height="59" fill="#000"/>
<rect x="232" y="273" width="4" height="59" fill="#000"/>
<rect x="166" y="276" width="4" height="1" fill="#fff"/>
<rect x="232" y="276" width="4" height="1" fill="#fff"/>
<rect x="166" y="279" width="4" height="1" fill="#fff"/>
<rect x="232" y="279" width="4" height="1" fill="#fff"/>
<rect x="166" y="282" width="4" height="1" fill="#fff"/>
<rect x="232" y="282" width="4" height="1" fill="#fff"/>
<rect x="166" y="285" width="4" height="1" fill="#fff"/>
<rect x="232" y="285" width="4" height="1" fill="#fff"/>
<rect x="166" y="288" width="4" height="1" fill="#fff"/>
<rect x="232" y="288" width="4" height="1" fill="#fff"/>
<rect x="166" y="291" width="4" height="1" fill="#fff"/>
<rect x="232" y="291" width="4" height="1" fill="#fff"/>
<rect x="166" y="294" width="4" height="1" fill="#fff"/>
<rect x="232" y="294" width="4" height="1" fill="#fff"/>
<rect x="166" y="297" width="4" height="1" fill="#fff"/>
<rect x="232" y="297" width="4" height="1" fill="#fff"/>
<rect x="166" y="300" width="4" height="1" fill="#fff"/>
<rect x="232" y="300" width="4" height="1" fill="#fff"/>
<rect x="166" y="303" width="4" height="1" fill="#fff"/>
<rect x="232" y="303" width="4" height="1" fill="#fff"/>
<rect x="166" y="306" width="4" height="1" fill="#fff"/>
<rect x="232" y="306" width="4" height="1" fill="#fff"/>
<rect x="166" y="309" width="4" height="1" fill="#fff"/>
<rect x="232" y="309" width="4" height="1" fill="#fff"/>
<rect x="166" y="312" width="4" height="1" fill="#fff"/>
<rect x="232" y="312" width="4" height="1" fill="#fff"/>
<rect x="166" y="315" width="4" height="1" fill="#fff"/>
<rect x="232" y="315" width="4" height="1" fill="#fff"/>
<rect x="166" y="318" width="4" height="1" fill="#fff"/>
<rect x="232" y="318" width="4" height="1" fill="#fff"/>
<rect x="166" y="321" width="4" height="1" fill="#fff"/>
<rect x="232" y="321" width="4" height="1" fill="#fff"/>
<rect x="166" y="324" width="4" height="1" fill="#fff"/>
<rect x="232" y="324" width="4" height="1" fill="#fff"/>
<rect x="166" y="327" width="4" height="1" fill="#fff"/>
<rect x="232" y="327" width="4" height="1" fill="#fff"/>
<rect x="166" y="330" width="4" height="1" fill="#fff"/>
<rect x="232" y="330" width="4" height="1" fill="#fff"/>
<rect x="191" y="296" width="20" height="13" fill="#000"/>
<rect x="190" y="297" width="22" height="11" fill="#000"/>
<rect x="192" y="298" width="19" height="9" fill="#fff"/>
<text x="193" y="305" font-size="9" fill="#000" font-weight="normal" filter="url(#th)" textLength="16" lengthAdjust="spacingAndGlyphs">CPU</text>
<rect x="71" y="291" width="83" height="85" fill="#000"/>
<rect x="69" y="293" width="2" height="83" fill="#000"/>
<rect x="71" y="296" width="3" height="2" fill="#fff"/>
<rect x="72" y="295" width="1" height="1" fill="#fff"/>
<rect x="72" y="300" width="1" height="3" fill="#fff"/>
<rect x="71" y="301" width="3" height="1" fill="#fff"/>
<rect x="71" y="306" width="3" height="2" fill="#fff"/>
<rect x="72" y="308" width="1" height="1" fill="#fff"/>
<rect x="71" y="311" width="3" height="3" fill="#fff"/>
<rect x="71" y="316" width="3" height="3" fill="#fff"/>
<rect x="72" y="322" width="2" height="3" fill="#fff"/>
<rect x="71" y="323" width="1" height="1" fill="#fff"/>
<rect x="71" y="327" width="3" height="3" fill="#fff"/>
<rect x="71" y="333" width="3" height="2" fill="#fff"/>
<rect x="72" y="332" width="1" height="1" fill="#fff"/>
<rect x="72" y="338" width="2" height="3" fill="#fff"/>
<rect x="71" y="339" width="1" height="1" fill="#fff"/>
<rect x="71" y="343" width="3" height="3" fill="#fff"/>
<rect x="72" y="348" width="2" height="3" fill="#fff"/>
<rect x="71" y="349" width="1" height="1" fill="#fff"/>
<rect x="72" y="354" width="1" height="3" fill="#fff"/>
<rect x="71" y="355" width="3" height="1" fill="#fff"/>
<rect x="71" y="359" width="3" height="3" fill="#fff"/>
<rect x="71" y="364" width="3" height="3" fill="#fff"/>
<rect x="71" y="370" width="3" height="2" fill="#fff"/>
<rect x="72" y="372" width="1" height="1" fill="#fff"/>
<rect x="76" y="295" width="3" height="2" fill="#fff"/>
<rect x="77" y="297" width="1" height="1" fill="#fff"/>
<rect x="76" y="300" width="3" height="3" fill="#fff"/>
<rect x="77" y="306" width="1" height="3" fill="#fff"/>
<rect x="76" y="307" width="3" height="1" fill="#fff"/>
<rect x="76" y="311" width="3" height="3" fill="#fff"/>
<rect x="77" y="316" width="2" height="3" fill="#fff"/>
<rect x="76" y="317" width="1" height="1" fill="#fff"/>
<rect x="76" y="322" width="3" height="2" fill="#fff"/>
<rect x="77" y="324" width="1" height="1" fill="#fff"/>
<rect x="76" y="327" width="3" height="3" fill="#fff"/>
<rect x="77" y="332" width="2" height="3" fill="#fff"/>
<rect x="76" y="333" width="1" height="1" fill="#fff"/>
<rect x="76" y="338" width="3" height="3" fill="#fff"/>
<rect x="77" y="343" width="1" height="3" fill="#fff"/>
<rect x="76" y="344" width="3" height="1" fill="#fff"/>
<rect x="77" y="348" width="2" height="3" fill="#fff"/>
<rect x="76" y="349" width="1" height="1" fill="#fff"/>
<rect x="76" y="354" width="3" height="3" fill="#fff"/>
<rect x="77" y="359" width="2" height="3" fill="#fff"/>
<rect x="76" y="360" width="1" height="1" fill="#fff"/>
<rect x="77" y="364" width="2" height="3" fill="#fff"/>
<rect x="76" y="365" width="1" height="1" fill="#fff"/>
<rect x="76" y="370" width="3" height="2" fill="#fff"/>
<rect x="77" y="372" width="1" height="1" fill="#fff"/>
<rect x="82" y="295" width="3" height="3" fill="#fff"/>
<rect x="83" y="300" width="1" height="3" fill="#fff"/>
<rect x="82" y="301" width="3" height="1" fill="#fff"/>
<rect x="82" y="306" width="3" height="3" fill="#fff"/>
<rect x="83" y="311" width="2" height="3" fill="#fff"/>
<rect x="82" y="312" width="1" height="1" fill="#fff"/>
<rect x="83" y="316" width="1" height="3" fill="#fff"/>
<rect x="82" y="317" width="3" height="1" fill="#fff"/>
<rect x="82" y="323" width="3" height="2" fill="#fff"/>
<rect x="83" y="322" width="1" height="1" fill="#fff"/>
<rect x="82" y="327" width="3" height="2" fill="#fff"/>
<rect x="83" y="329" width="1" height="1" fill="#fff"/>
<rect x="83" y="332" width="1" height="3" fill="#fff"/>
<rect x="82" y="333" width="3" height="1" fill="#fff"/>
<rect x="83" y="338" width="2" height="3" fill="#fff"/>
<rect x="82" y="339" width="1" height="1" fill="#fff"/>
<rect x="82" y="343" width="3" height="3" fill="#fff"/>
<rect x="83" y="348" width="2" height="3" fill="#fff"/>
<rect x="82" y="349" width="1" height="1" fill="#fff"/>
<rect x="82" y="355" width="3" height="2" fill="#fff"/>
<rect x="83" y="354" width="1" height="1" fill="#fff"/>
<rect x="83" y="359" width="2" height="3" fill="#fff"/>
<rect x="82" y="360" width="1" height="1" fill="#fff"/>
<rect x="83" y="364" width="1" height="3" fill="#fff"/>
<rect x="82" y="365" width="3" height="1" fill="#fff"/>
<rect x="82" y="370" width="3" height="3" fill="#fff"/>
<rect x="88" y="295" width="2" height="3" fill="#fff"/>
<rect x="87" y="296" width="1" height="1" fill="#fff"/>
<rect x="88" y="300" width="2" height="3" fill="#fff"/>
<rect x="87" y="301" width="1" height="1" fill="#fff"/>
<rect x="88" y="306" width="1" height="3" fill="#fff"/>
<rect x="87" y="307" width="3" height="1" fill="#fff"/>
<rect x="87" y="360" width="3" height="2" fill="#fff"/>
<rect x="88" y="359" width="1" height="1" fill="#fff"/>
<rect x="87" y="364" width="3" height="3" fill="#fff"/>
<rect x="88" y="370" width="2" height="3" fill="#fff"/>
<rect x="87" y="371" width="1" height="1" fill="#fff"/>
<rect x="93" y="295" width="3" height="3" fill="#fff"/>
<rect x="94" y="300" width="2" height="3" fill="#fff"/>
<rect x="93" y="301" width="1" height="1" fill="#fff"/>
<rect x="93" y="306" width="3" height="3" fill="#fff"/>
<rect x="94" y="359" width="2" height="3" fill="#fff"/>
<rect x="93" y="360" width="1" height="1" fill="#fff"/>
<rect x="94" y="364" width="1" height="3" fill="#fff"/>
<rect x="93" y="365" width="3" height="1" fill="#fff"/>
<rect x="93" y="370" width="3" height="2" fill="#fff"/>
<rect x="94" y="372" width="1" height="1" fill="#fff"/>
<rect x="99" y="295" width="2" height="3" fill="#fff"/>
<rect x="98" y="296" width="1" height="1" fill="#fff"/>
<rect x="98" y="300" width="3" height="2" fill="#fff"/>
<rect x="99" y="302" width="1" height="1" fill="#fff"/>
<rect x="98" y="307" width="3" height="2" fill="#fff"/>
<rect x="99" y="306" width="1" height="1" fill="#fff"/>
<rect x="98" y="359" width="3" height="2" fill="#fff"/>
<rect x="99" y="361" width="1" height="1" fill="#fff"/>
<rect x="99" y="364" width="2" height="3" fill="#fff"/>
<rect x="98" y="365" width="1" height="1" fill="#fff"/>
<rect x="98" y="370" width="3" height="2" fill="#fff"/>
<rect x="99" y="372" width="1" height="1" fill="#fff"/>
<rect x="104" y="296" width="3" height="2" fill="#fff"/>
<rect x="105" y="295" width="1" height="1" fill="#fff"/>
<rect x="104" y="301" width="3" height="2" fill="#fff"/>
<rect x="105" y="300" width="1" height="1" fill="#fff"/>
<rect x="105" y="306" width="1" height="3" fill="#fff"/>
<rect x="104" y="307" width="3" height="1" fill="#fff"/>
<rect x="105" y="359" width="1" height="3" fill="#fff"/>
<rect x="104" y="360" width="3" height="1" fill="#fff"/>
<rect x="105" y="364" width="1" height="3" fill="#fff"/>
<rect x="104" y="365" width="3" height="1" fill="#fff"/>
<rect x="104" y="370" width="3" height="3" fill="#fff"/>
<rect x="110" y="295" width="2" height="3" fill="#fff"/>
<rect x="109" y="296" width="1" height="1" fill="#fff"/>
<rect x="109" y="301" width="3" height="2" fill="#fff"/>
<rect x="110" y="300" width="1" height="1" fill="#fff"/>
<rect x="110" y="306" width="2" height="3" fill="#fff"/>
<rect x="109" y="307" width="1" height="1" fill="#fff"/>
<rect x="109" y="359" width="3" height="2" fill="#fff"/>
<rect x="110" y="361" width="1" height="1" fill="#fff"/>
<rect x="109" y="365" width="3" height="2" fill="#fff"/>
<rect x="110" y="364" width="1" height="1" fill="#fff"/>
<rect x="109" y="370" width="3" height="2" fill="#fff"/>
<rect x="110" y="372" width="1" height="1" fill="#fff"/>
<rect x="115" y="296" width="3" height="2" fill="#fff"/>
<rect x="116" y="295" width="1" height="1" fill="#fff"/>
<rect x="116" y="300" width="2" height="3" fill="#fff"/>
<rect x="115" y="301" width="1" height="1" fill="#fff"/>
<rect x="115" y="306" width="3" height="3" fill="#fff"/>
<rect x="115" y="359" width="3" height="3" fill="#fff"/>
<rect x="116" y="364" width="2" height="3" fill="#fff"/>
<rect x="115" y="365" width="1" height="1" fill="#fff"/>
<rect x="115" y="370" width="3" height="2" fill="#fff"/>
<rect x="116" y="372" width="1" height="1" fill="#fff"/>
<rect x="121" y="295" width="1" height="3" fill="#fff"/>
<rect x="120" y="296" width="3" height="1" fill="#fff"/>
<rect x="120" y="301" width="3" height="2" fill="#fff"/>
<rect x="121" y="300" width="1" height="1" fill="#fff"/>
<rect x="121" y="306" width="1" height="3" fill="#fff"/>
<rect x="120" y="307" width="3" height="1" fill="#fff"/>
<rect x="120" y="359" width="3" height="2" fill="#fff"/>
<rect x="121" y="361" width="1" height="1" fill="#fff"/>
<rect x="120" y="364" width="3" height="2" fill="#fff"/>
<rect x="121" y="366" width="1" height="1" fill="#fff"/>
<rect x="120" y="370" width="3" height="3" fill="#fff"/>
<rect x="126" y="295" width="3" height="3" fill="#fff"/>
<rect x="127" y="300" width="2" height="3" fill="#fff"/>
<rect x="126" y="301" width="1" height="1" fill="#fff"/>
<rect x="127" y="306" width="2" height="3" fill="#fff"/>
<rect x="126" y="307" width="1" height="1" fill="#fff"/>
<rect x="126" y="360" width="3" height="2" fill="#fff"/>
<rect x="127" y="359" width="1" height="1" fill="#fff"/>
<rect x="126" y="365" width="3" height="2" fill="#fff"/>
<rect x="127" y="364" width="1" height="1" fill="#fff"/>
<rect x="126" y="371" width="3" height="2" fill="#fff"/>
<rect x="127" y="370" width="1" height="1" fill="#fff"/>
<rect x="132" y="295" width="2" height="3" fill="#fff"/>
<rect x="131" y="296" width="1" height="1" fill="#fff"/>
<rect x="131" y="300" width="3" height="2" fill="#fff"/>
<rect x="132" y="302" width="1" height="1" fill="#fff"/>
<rect x="132" y="306" width="2" height="3" fill="#fff"/>
<rect x="131" y="307" width="1" height="1" fill="#fff"/>
<rect x="131" y="359" width="3" height="2" fill="#fff"/>
<rect x="132" y="361" width="1" height="1" fill="#fff"/>
<rect x="131" y="364" width="3" height="3" fill="#fff"/>
<rect x="131" y="370" width="3" height="3" fill="#fff"/>
<rect x="137" y="296" width="3" height="2" fill="#fff"/>
<rect x="138" y="295" width="1" height="1" fill="#fff"/>
<rect x="137" y="300" width="3" height="2" fill="#fff"/>
<rect x="138" y="302" width="1" height="1" fill="#fff"/>
<rect x="137" y="306" width="3" height="3" fill="#fff"/>
<rect x="137" y="311" width="3" height="3" fill="#fff"/>
<rect x="137" y="317" width="3" height="2" fill="#fff"/>
<rect x="138" y="316" width="1" height="1" fill="#fff"/>
<rect x="138" y="322" width="2" height="3" fill="#fff"/>
<rect x="137" y="323" width="1" height="1" fill="#fff"/>
<rect x="137" y="327" width="3" height="2" fill="#fff"/>
<rect x="138" y="329" width="1" height="1" fill="#fff"/>
<rect x="137" y="333" width="3" height="2" fill="#fff"/>
<rect x="138" y="332" width="1" height="1" fill="#fff"/>
<rect x="137" y="338" width="3" height="2" fill="#fff"/>
<rect x="138" y="340" width="1" height="1" fill="#fff"/>
<rect x="137" y="344" width="3" height="2" fill="#fff"/>
<rect x="138" y="343" width="1" height="1" fill="#fff"/>
<rect x="137" y="348" width="3" height="3" fill="#fff"/>
<rect x="137" y="354" width="3" height="2" fill="#fff"/>
<rect x="138" y="356" width="1" height="1" fill="#fff"/>
<rect x="137" y="360" width="3" height="2" fill="#fff"/>
<rect x="138" y="359" width="1" height="1" fill="#fff"/>
<rect x="138" y="364" width="1" height="3" fill="#fff"/>
<rect x="137" y="365" width="3" height="1" fill="#fff"/>
<rect x="138" y="370" width="2" height="3" fill="#fff"/>
<rect x="137" y="371" width="1" height="1" fill="#fff"/>
<rect x="142" y="295" width="3" height="3" fill="#fff"/>
<rect x="142" y="300" width="3" height="2" fill="#fff"/>
<rect x="143" y="302" width="1" height="1" fill="#fff"/>
<rect x="142" y="306" width="3" height="3" fill="#fff"/>
<rect x="143" y="311" width="1" height="3" fill="#fff"/>
<rect x="142" y="312" width="3" height="1" fill="#fff"/>
<rect x="142" y="317" width="3" height="2" fill="#fff"/>
<rect x="143" y="316" width="1" height="1" fill="#fff"/>
<rect x="143" y="322" width="1" height="3" fill="#fff"/>
<rect x="142" y="323" width="3" height="1" fill="#fff"/>
<rect x="143" y="327" width="1" height="3" fill="#fff"/>
<rect x="142" y="328" width="3" height="1" fill="#fff"/>
<rect x="142" y="332" width="3" height="2" fill="#fff"/>
<rect x="143" y="334" width="1" height="1" fill="#fff"/>
<rect x="142" y="338" width="3" height="2" fill="#fff"/>
<rect x="143" y="340" width="1" height="1" fill="#fff"/>
<rect x="142" y="343" width="3" height="2" fill="#fff"/>
<rect x="143" y="345" width="1" height="1" fill="#fff"/>
<rect x="142" y="348" width="3" height="3" fill="#fff"/>
<rect x="143" y="354" width="1" height="3" fill="#fff"/>
<rect x="142" y="355" width="3" height="1" fill="#fff"/>
<rect x="142" y="359" width="3" height="2" fill="#fff"/>
<rect x="143" y="361" width="1" height="1" fill="#fff"/>
<rect x="142" y="364" width="3" height="2" fill="#fff"/>
<rect x="143" y="366" width="1" height="1" fill="#fff"/>
<rect x="143" y="370" width="2" height="3" fill="#fff"/>
<rect x="142" y="371" width="1" height="1" fill="#fff"/>
<rect x="148" y="296" width="3" height="2" fill="#fff"/>
<rect x="149" y="295" width="1" height="1" fill="#fff"/>
<rect x="149" y="300" width="1" height="3" fill="#fff"/>
<rect x="148" y="301" width="3" height="1" fill="#fff"/>
<rect x="148" y="306" width="3" height="2" fill="#fff"/>
<rect x="149" y="308" width="1" height="1" fill="#fff"/>
<rect x="149" y="311" width="2" height="3" fill="#fff"/>
<rect x="148" y="312" width="1" height="1" fill="#fff"/>
<rect x="148" y="317" width="3" height="2" fill="#fff"/>
<rect x="149" y="316" width="1" height="1" fill="#fff"/>
<rect x="148" y="322" width="3" height="2" fill="#fff"/>
<rect x="149" y="324" width="1" height="1" fill="#fff"/>
<rect x="148" y="328" width="3" height="2" fill="#fff"/>
<rect x="149" y="327" width="1" height="1" fill="#fff"/>
<rect x="148" y="332" width="3" height="2" fill="#fff"/>
<rect x="149" y="334" width="1" height="1" fill="#fff"/>
<rect x="149" y="338" width="1" height="3" fill="#fff"/>
<rect x="148" y="339" width="3" height="1" fill="#fff"/>
<rect x="149" y="343" width="1" height="3" fill="#fff"/>
<rect x="148" y="344" width="3" height="1" fill="#fff"/>
<rect x="148" y="348" width="3" height="3" fill="#fff"/>
<rect x="149" y="354" width="1" height="3" fill="#fff"/>
<rect x="148" y="355" width="3" height="1" fill="#fff"/>
<rect x="149" y="359" width="1" height="3" fill="#fff"/>
<rect x="148" y="360" width="3" height="1" fill="#fff"/>
<rect x="149" y="364" width="1" height="3" fill="#fff"/>
<rect x="148" y="365" width="3" height="1" fill="#fff"/>
<rect x="149" y="370" width="1" height="3" fill="#fff"/>
<rect x="148" y="371" width="3" height="1" fill="#fff"/>
<rect x="90" y="312" width="42" height="43" fill="#fff"/>
<circle cx="93.5" cy="316" r="2.2" fill="#000" shape-rendering="auto"/>
<rect x="99" y="326" width="24" height="15" fill="#000"/>
<rect x="98" y="327" width="26" height="13" fill="#000"/>
<rect x="100" y="328" width="23" height="11" fill="#fff"/>
<text x="102" y="338" font-size="11" fill="#000" font-weight="normal" filter="url(#th)" textLength="20" lengthAdjust="spacingAndGlyphs">CPU</text>
<rect x="286" y="326" width="95" height="10" fill="#000"/>
<rect x="291" y="327" width="1" height="8" fill="#fff"/>
<rect x="296" y="327" width="1" height="8" fill="#fff"/>
<rect x="305" y="327" width="1" height="8" fill="#fff"/>
<rect x="310" y="327" width="1" height="8" fill="#fff"/>
<rect x="314" y="327" width="1" height="8" fill="#fff"/>
<rect x="319" y="327" width="1" height="8" fill="#fff"/>
<rect x="324" y="327" width="1" height="8" fill="#fff"/>
<rect x="328" y="327" width="1" height="8" fill="#fff"/>
<rect x="333" y="327" width="1" height="8" fill="#fff"/>
<rect x="338" y="327" width="1" height="8" fill="#fff"/>
<rect x="343" y="327" width="1" height="8" fill="#fff"/>
<rect x="347" y="327" width="1" height="8" fill="#fff"/>
<rect x="352" y="327" width="1" height="8" fill="#fff"/>
<rect x="356" y="327" width="1" height="8" fill="#fff"/>
<rect x="361" y="327" width="1" height="8" fill="#fff"/>
<rect x="366" y="327" width="1" height="8" fill="#fff"/>
<rect x="371" y="327" width="1" height="8" fill="#fff"/>
<rect x="375" y="327" width="1" height="8" fill="#fff"/>
<rect x="377" y="327" width="2" height="2" fill="#fff"/>
<rect x="336" y="299" width="19" height="15" fill="#000"/>
<rect x="335" y="300" width="21" height="13" fill="#000"/>
<rect x="337" y="301" width="18" height="11" fill="#fff"/>
<text x="339" y="310" font-size="11" fill="#000" font-weight="normal" filter="url(#th)" textLength="12" lengthAdjust="spacingAndGlyphs">J9</text>
<rect x="341" y="313" width="2" height="5" fill="#000"/>
<rect x="345" y="313" width="2" height="5" fill="#000"/>
<rect x="343" y="312" width="2" height="4" fill="#fff"/>
<rect x="343" y="316" width="2" height="10" fill="#000"/>
<rect x="342" y="318" width="4" height="4" fill="#000"/>
<rect x="343" y="318" width="3" height="8" fill="#000"/>
<rect x="343" y="316" width="1" height="2" fill="#fff"/>
<rect x="337" y="379" width="81" height="11" fill="#000"/>
<rect x="338" y="380" width="79" height="1" fill="#fff"/>
<rect x="338" y="384" width="79" height="1" fill="#fff"/>
<rect x="338" y="380" width="1" height="9" fill="#fff"/>
<rect x="343" y="380" width="1" height="9" fill="#fff"/>
<rect x="348" y="380" width="1" height="9" fill="#fff"/>
<rect x="352" y="380" width="1" height="9" fill="#fff"/>
<rect x="357" y="380" width="1" height="9" fill="#fff"/>
<rect x="362" y="380" width="1" height="9" fill="#fff"/>
<rect x="366" y="380" width="1" height="9" fill="#fff"/>
<rect x="371" y="380" width="1" height="9" fill="#fff"/>
<rect x="376" y="380" width="1" height="9" fill="#fff"/>
<rect x="381" y="380" width="1" height="9" fill="#fff"/>
<rect x="385" y="380" width="1" height="9" fill="#fff"/>
<rect x="390" y="380" width="1" height="9" fill="#fff"/>
<rect x="395" y="380" width="1" height="9" fill="#fff"/>
<rect x="404" y="380" width="1" height="9" fill="#fff"/>
<rect x="409" y="380" width="1" height="9" fill="#fff"/>
<rect x="413" y="380" width="1" height="9" fill="#fff"/>
<rect x="414" y="382" width="2" height="2" fill="#fff"/>
<rect x="368" y="351" width="19" height="16" fill="#000"/>
<rect x="367" y="352" width="21" height="14" fill="#000"/>
<rect x="369" y="353" width="18" height="12" fill="#fff"/>
<text x="371" y="363" font-size="11" fill="#000" font-weight="normal" filter="url(#th)" textLength="11" lengthAdjust="spacingAndGlyphs">J7</text>
<rect x="374" y="366" width="2" height="5" fill="#000"/>
<rect x="378" y="366" width="2" height="5" fill="#000"/>
<rect x="376" y="365" width="2" height="4" fill="#fff"/>
<rect x="376" y="369" width="2" height="10" fill="#000"/>
<rect x="375" y="371" width="4" height="4" fill="#000"/>
<rect x="376" y="371" width="3" height="8" fill="#000"/>
<rect x="376" y="369" width="1" height="2" fill="#fff"/>
<rect x="465" y="301" width="25" height="15" fill="#000"/>
<rect x="464" y="302" width="27" height="13" fill="#000"/>
<rect x="466" y="303" width="24" height="11" fill="#fff"/>
<text x="469" y="312" font-size="11" fill="#000" font-weight="normal" filter="url(#th)" textLength="17" lengthAdjust="spacingAndGlyphs">J29</text>
<rect x="473" y="315" width="2" height="5" fill="#000"/>
<rect x="477" y="315" width="2" height="5" fill="#000"/>
<rect x="475" y="314" width="2" height="4" fill="#fff"/>
<rect x="475" y="318" width="2" height="10" fill="#000"/>
<rect x="474" y="320" width="4" height="4" fill="#000"/>
<rect x="475" y="320" width="3" height="8" fill="#000"/>
<rect x="475" y="318" width="1" height="2" fill="#fff"/>
<rect x="473" y="328" width="11" height="6" fill="#000"/>
<rect x="477" y="329" width="1" height="4" fill="#fff"/>
<rect x="445.5" y="350.5" width="89" height="19" fill="none" stroke="#000" stroke-width="1"/>
<rect x="446" y="354" width="88" height="1" fill="#000"/>
<rect x="446" y="356" width="88" height="1" fill="#000"/>
<rect x="449" y="352" width="3" height="1" fill="#000"/>
<rect x="448" y="353" width="6" height="2" fill="#000"/>
<rect x="450" y="355" width="2" height="1" fill="#000"/>
<rect x="448" y="358" width="6" height="2" fill="#000"/>
<rect x="456" y="352" width="3" height="1" fill="#000"/>
<rect x="455" y="353" width="6" height="2" fill="#000"/>
<rect x="457" y="355" width="2" height="1" fill="#000"/>
<rect x="455" y="358" width="6" height="2" fill="#000"/>
<rect x="463" y="352" width="3" height="1" fill="#000"/>
<rect x="462" y="353" width="6" height="2" fill="#000"/>
<rect x="464" y="355" width="2" height="1" fill="#000"/>
<rect x="462" y="358" width="6" height="2" fill="#000"/>
<rect x="471" y="352" width="3" height="1" fill="#000"/>
<rect x="470" y="353" width="6" height="2" fill="#000"/>
<rect x="472" y="355" width="2" height="1" fill="#000"/>
<rect x="470" y="358" width="6" height="2" fill="#000"/>
<rect x="478" y="352" width="3" height="1" fill="#000"/>
<rect x="477" y="353" width="6" height="2" fill="#000"/>
<rect x="479" y="355" width="2" height="1" fill="#000"/>
<rect x="477" y="358" width="6" height="2" fill="#000"/>
<rect x="486" y="352" width="3" height="1" fill="#000"/>
<rect x="485" y="353" width="6" height="2" fill="#000"/>
<rect x="487" y="355" width="2" height="1" fill="#000"/>
<rect x="485" y="358" width="6" height="2" fill="#000"/>
<rect x="493" y="352" width="3" height="1" fill="#000"/>
<rect x="492" y="353" width="6" height="2" fill="#000"/>
<rect x="494" y="355" width="2" height="1" fill="#000"/>
<rect x="492" y="358" width="6" height="2" fill="#000"/>
<rect x="501" y="352" width="3" height="1" fill="#000"/>
<rect x="500" y="353" width="6" height="2" fill="#000"/>
<rect x="502" y="355" width="2" height="1" fill="#000"/>
<rect x="500" y="358" width="6" height="2" fill="#000"/>
<rect x="508" y="352" width="3" height="1" fill="#000"/>
<rect x="507" y="353" width="6" height="2" fill="#000"/>
<rect x="509" y="355" width="2" height="1" fill="#000"/>
<rect x="507" y="358" width="6" height="2" fill="#000"/>
<rect x="516" y="352" width="3" height="1" fill="#000"/>
<rect x="515" y="353" width="6" height="2" fill="#000"/>
<rect x="517" y="355" width="2" height="1" fill="#000"/>
<rect x="515" y="358" width="6" height="2" fill="#000"/>
<rect x="523" y="352" width="3" height="1" fill="#000"/>
<rect x="522" y="353" width="6" height="2" fill="#000"/>
<rect x="524" y="355" width="2" height="1" fill="#000"/>
<rect x="522" y="358" width="6" height="2" fill="#000"/>
<rect x="450.5" y="361.5" width="5" height="5" fill="none" stroke="#000" stroke-width="1"/>
<rect x="457.5" y="361.5" width="5" height="5" fill="none" stroke="#000" stroke-width="1"/>
<rect x="465.5" y="361.5" width="5" height="5" fill="none" stroke="#000" stroke-width="1"/>
<rect x="472.5" y="361.5" width="5" height="5" fill="none" stroke="#000" stroke-width="1"/>
<rect x="480.5" y="361.5" width="5" height="5" fill="none" stroke="#000" stroke-width="1"/>
<rect x="487.5" y="361.5" width="5" height="5" fill="none" stroke="#000" stroke-width="1"/>
<rect x="495.5" y="361.5" width="5" height="5" fill="none" stroke="#000" stroke-width="1"/>
<rect x="502.5" y="361.5" width="5" height="5" fill="none" stroke="#000" stroke-width="1"/>
<rect x="510.5" y="361.5" width="5" height="5" fill="none" stroke="#000" stroke-width="1"/>
<rect x="517.5" y="361.5" width="5" height="5" fill="none" stroke="#000" stroke-width="1"/>
<rect x="525.5" y="361.5" width="5" height="5" fill="none" stroke="#000" stroke-width="1"/>
<rect x="446" y="361" width="4" height="6" fill="#000"/>
<rect x="445" y="362" width="2" height="3" fill="#fff"/>
<rect x="530" y="361" width="4" height="6" fill="#000"/>
<rect x="533" y="364" width="1" height="2" fill="#fff"/>
<rect x="499" y="370" width="27" height="15" fill="#000"/>
<rect x="498" y="371" width="29" height="13" fill="#000"/>
<rect x="500" y="372" width="26" height="11" fill="#fff"/>
<text x="503" y="381" font-size="11" fill="#000" font-weight="normal" filter="url(#th)" textLength="16" lengthAdjust="spacingAndGlyphs">J31</text>
<rect x="526" y="375" width="4" height="1" fill="#000"/>
<rect x="526" y="376" width="10" height="1" fill="#000"/>
<rect x="531" y="377" width="7" height="1" fill="#000"/>
<rect x="525" y="377" width="6" height="1" fill="#fff"/>
<rect x="528" y="378" width="7" height="1" fill="#000"/>
<rect x="525" y="378" width="3" height="1" fill="#fff"/>
<rect x="535" y="378" width="3" height="1" fill="#000"/>
<rect x="526" y="379" width="3" height="1" fill="#000"/>
<rect x="538" y="375" width="15" height="6" fill="#000"/>
<rect x="547" y="376" width="1" height="4" fill="#fff"/>
<rect x="549" y="377" width="2" height="2" fill="#fff"/>
<rect x="506" y="393" width="27" height="16" fill="#000"/>
<rect x="505" y="394" width="29" height="14" fill="#000"/>
<rect x="507" y="395" width="26" height="12" fill="#fff"/>
<text x="511" y="404" font-size="11" fill="#000" font-weight="normal" filter="url(#th)" textLength="16" lengthAdjust="spacingAndGlyphs">J30</text>
<rect x="533" y="398" width="4" height="1" fill="#000"/>
<rect x="533" y="399" width="10" height="1" fill="#000"/>
<rect x="538" y="400" width="7" height="1" fill="#000"/>
<rect x="532" y="400" width="6" height="1" fill="#fff"/>
<rect x="535" y="401" width="7" height="1" fill="#000"/>
<rect x="532" y="401" width="3" height="1" fill="#fff"/>
<rect x="542" y="401" width="3" height="1" fill="#000"/>
<rect x="533" y="402" width="3" height="1" fill="#000"/>
<rect x="545" y="398" width="15" height="5" fill="#000"/>
<rect x="550" y="399" width="1" height="3" fill="#fff"/>
<rect x="554" y="399" width="1" height="3" fill="#fff"/>
<rect x="556" y="399" width="2" height="2" fill="#fff"/>
<circle cx="579" cy="387" r="18.5" fill="none" stroke="#000" stroke-width="1"/>
<rect x="573" y="356" width="13" height="13" fill="#000"/>
<rect x="576" y="357" width="6" height="33" fill="#fff"/>
<rect x="576" y="369" width="1" height="21" fill="#000"/>
<rect x="581" y="369" width="1" height="21" fill="#000"/>
<rect x="576" y="390" width="6" height="2" fill="#000"/>
<path d="M576,392 L576,396 L579,399 L582,396 L582,392 Z" fill="#fff" stroke="#000" stroke-width="1"/>
</svg></body></html>
